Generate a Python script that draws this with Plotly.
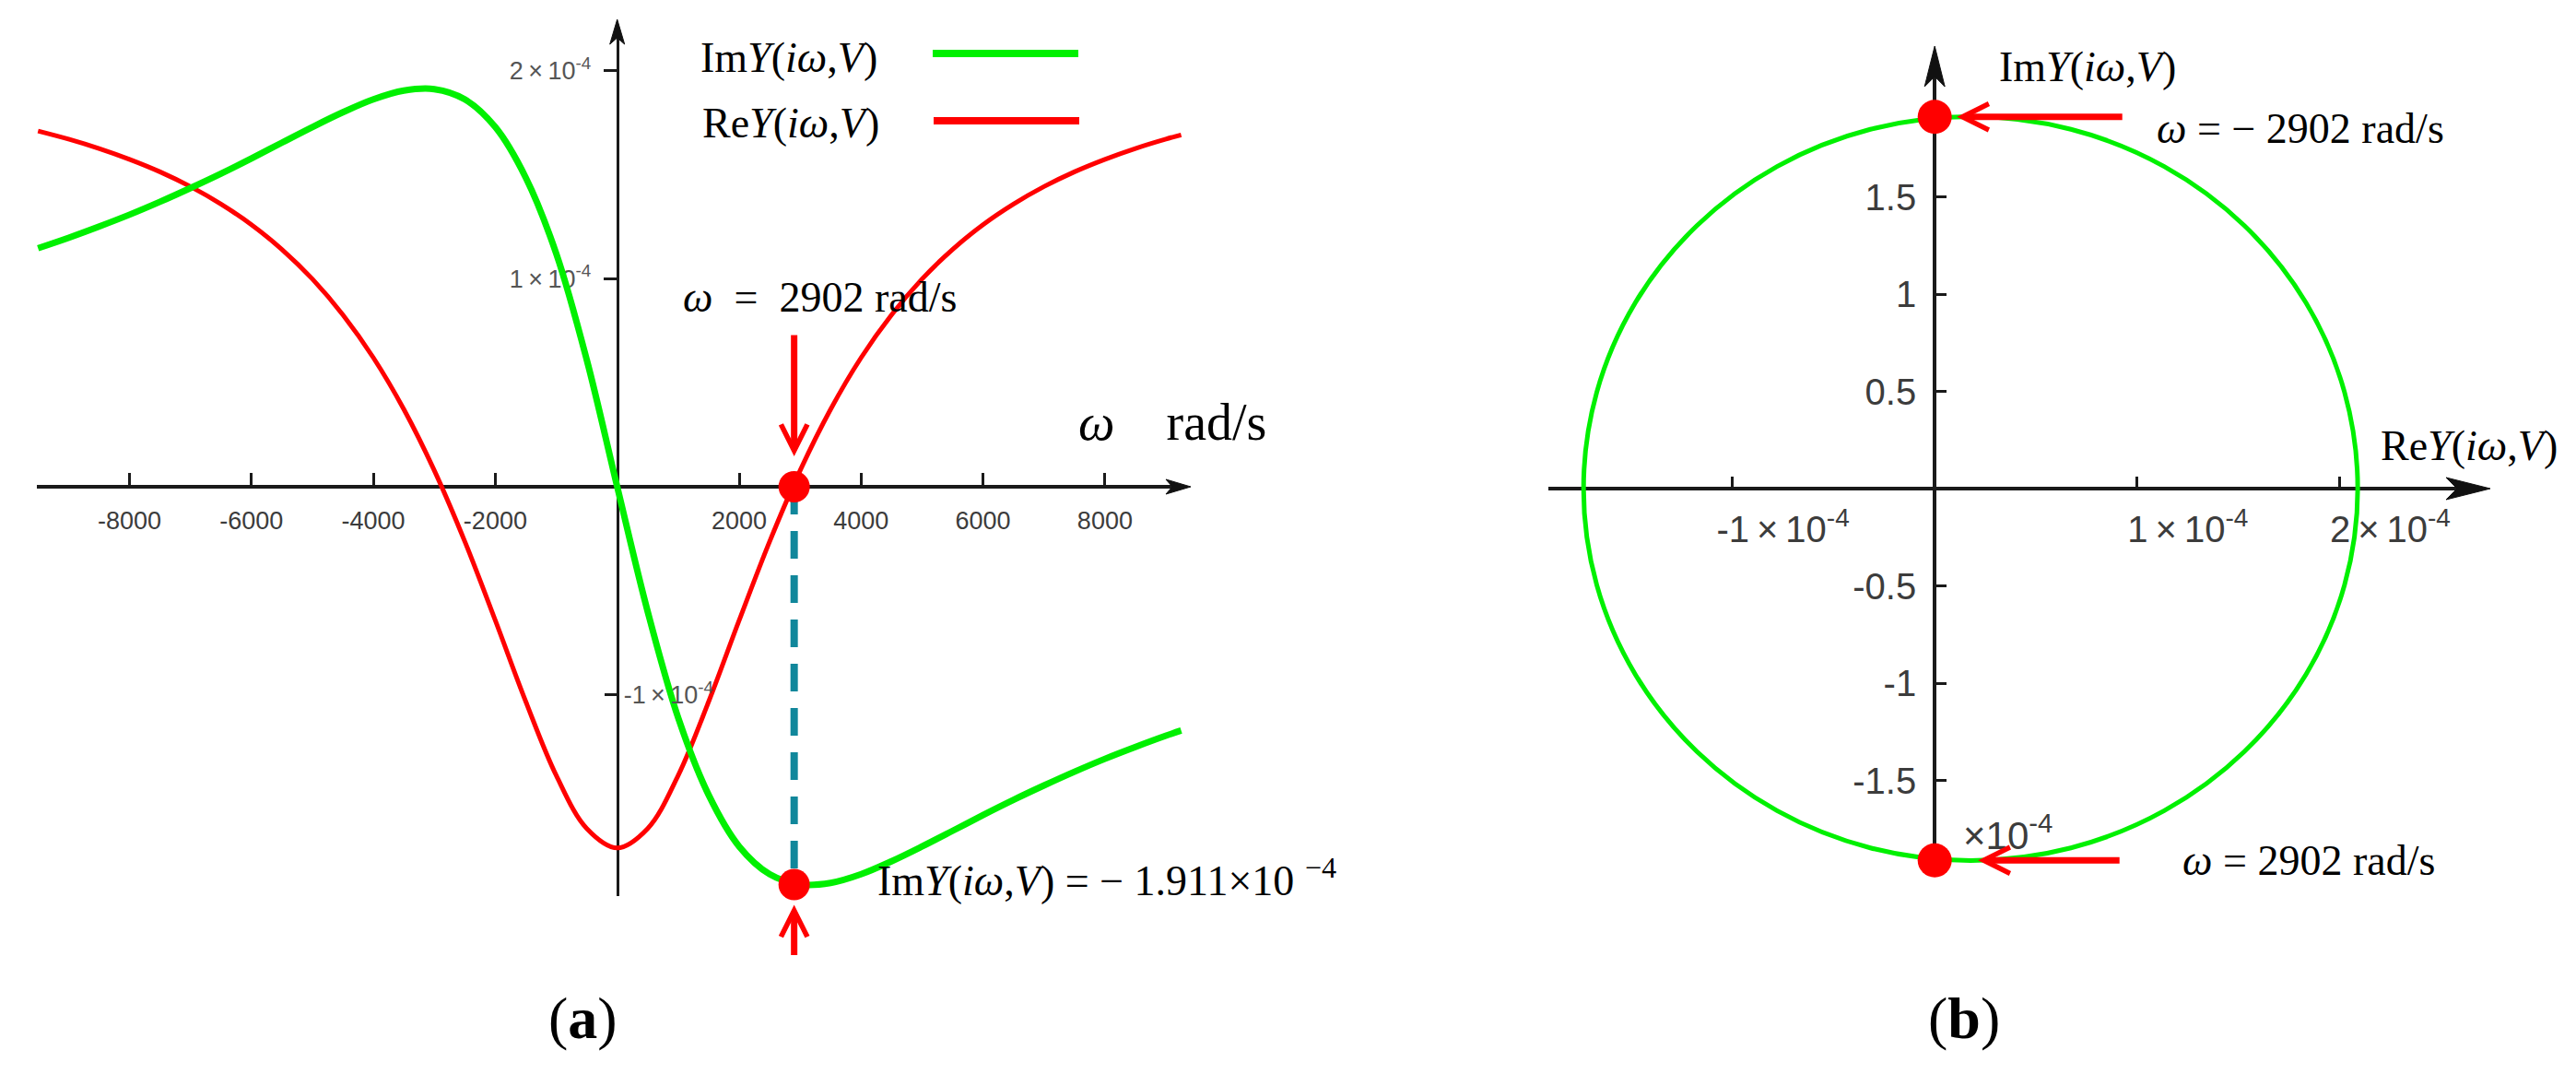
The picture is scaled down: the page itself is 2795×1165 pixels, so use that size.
import plotly.graph_objects as go

# ---------------- data (values in units of 1e-4 S) ----------------
omega = [-9500, -9000, -8500, -8000, -7500, -7000, -6500, -6000, -5500, -5000,
         -4500, -4000, -3500, -3000, -2500, -2000, -1500, -1000, -500, 0,
         500, 1000, 1500, 2000, 2500, 3000, 3500, 4000, 4500, 5000,
         5500, 6000, 6500, 7000, 7500, 8000, 8500, 9000, 9250]
im_y = [1.146, 1.196, 1.250, 1.307, 1.369, 1.435, 1.504, 1.577, 1.653, 1.728,
        1.799, 1.861, 1.903, 1.910, 1.861, 1.728, 1.485, 1.12, 0.61, 0.0,
        -0.60, -1.11, -1.481, -1.728, -1.861, -1.910, -1.903, -1.861, -1.799, -1.728,
        -1.653, -1.577, -1.504, -1.435, -1.369, -1.307, -1.250, -1.196, -1.171]
re_y = [1.709, 1.670, 1.625, 1.573, 1.513, 1.442, 1.358, 1.259, 1.140, 0.998,
        0.826, 0.620, 0.372, 0.078, -0.263, -0.642, -1.032, -1.387, -1.642, -1.735,
        -1.642, -1.387, -1.032, -0.642, -0.263, 0.078, 0.372, 0.620, 0.826, 0.998,
        1.140, 1.259, 1.358, 1.442, 1.513, 1.573, 1.625, 1.670, 1.690]

# Nyquist locus (panel b), ordered from omega = -inf to +inf
re_b = [2.090, 2.025, 1.834, 1.530, 1.134, 0.673, 0.178, -0.318, -0.779, -1.175,
        -1.479, -1.670, -1.735, -1.670, -1.479, -1.175, -0.779, -0.318, 0.178, 0.673,
        1.134, 1.530, 1.834, 2.025, 2.090]
im_b = [0.0, 0.495, 0.956, 1.352, 1.656, 1.847, 1.912, 1.847, 1.656, 1.352,
        0.956, 0.495, 0.0, -0.495, -0.956, -1.352, -1.656, -1.847, -1.912, -1.847,
        -1.656, -1.352, -0.956, -0.495, 0.0]

omega_mark = 2902
im_extreme = 1.911

x_ticks_a = [-8000, -6000, -4000, -2000, 2000, 4000, 6000, 8000]
x_ticktext_a = ["-8000", "-6000", "-4000", "-2000", "2000", "4000", "6000", "8000"]
y_ticks_a_left = [1, 2]
y_ticktext_a_left = ["1\u2009\u00d7\u200910<sup>-4</sup>", "2\u2009\u00d7\u200910<sup>-4</sup>"]
y_ticks_a_right = [-1]
y_ticktext_a_right = ["-1\u2009\u00d7\u200910<sup>-4</sup>"]
x_ticks_b = [-1, 1, 2]
x_ticktext_b = ["-1\u2009\u00d7\u200910<sup>-4</sup>", "1\u2009\u00d7\u200910<sup>-4</sup>",
                "2\u2009\u00d7\u200910<sup>-4</sup>"]
y_ticks_b = [-1.5, -1, -0.5, 0.5, 1, 1.5]
y_ticktext_b = ["-1.5", "-1", "-0.5", "0.5", "1", "1.5"]

# ---------------- layout geometry (pixels) ----------------
W, H = 2795, 1165


def fx(px):
    return px / W


def fy(py):
    return 1 - py / H


# panel a calibration
XA0, KXA = 669.7, 132.3 / 2000.0   # px of omega=0, px per rad/s
YA0, KYA = 528.0, 225.8            # px of 0, px per 1e-4
# panel b calibration
XB0, KXB = 2099.2, 219.6
YB0, KYB = 530.0, 211.0

GREEN = "#00f000"
RED = "#ff0000"
TEAL = "#11879b"
SERIF = "Liberation Serif"
SANS = "Liberation Sans"
TICKC = "#3c3c3c"

fig = go.Figure()

# ---- panel (a)
fig.add_trace(go.Scatter(x=omega, y=re_y, mode="lines", line=dict(color=RED, width=5, shape="spline"),
                         xaxis="x", yaxis="y", showlegend=False, hoverinfo="skip"))
fig.add_trace(go.Scatter(x=omega, y=im_y, mode="lines", line=dict(color=GREEN, width=7, shape="spline"),
                         xaxis="x", yaxis="y", showlegend=False, hoverinfo="skip"))
fig.add_trace(go.Scatter(x=[omega_mark, omega_mark], y=[0, -im_extreme], mode="lines",
                         line=dict(color=TEAL, width=8, dash="30px,18px"),
                         xaxis="x", yaxis="y", showlegend=False, hoverinfo="skip"))
fig.add_trace(go.Scatter(x=[omega_mark, omega_mark], y=[0, -im_extreme], mode="markers",
                         marker=dict(color=RED, size=34), cliponaxis=False,
                         xaxis="x", yaxis="y", showlegend=False, hoverinfo="skip"))
fig.add_trace(go.Scatter(x=[omega_mark], y=[-im_extreme], mode="markers",
                         marker=dict(color=RED, size=1, opacity=0),
                         xaxis="x", yaxis="y3", showlegend=False, hoverinfo="skip"))

# ---- panel (b)
fig.add_trace(go.Scatter(x=re_b, y=im_b, mode="lines", line=dict(color=GREEN, width=5, shape="spline"),
                         xaxis="x2", yaxis="y2", showlegend=False, hoverinfo="skip"))
fig.add_trace(go.Scatter(x=[0, 0], y=[im_extreme, -im_extreme], mode="markers",
                         marker=dict(color=RED, size=37), cliponaxis=False,
                         xaxis="x2", yaxis="y2", showlegend=False, hoverinfo="skip"))

common = dict(showgrid=False, zeroline=False, showline=True, linecolor="#1a1a1a",
              tickcolor="#1a1a1a", layer="below traces", fixedrange=True)

xa_l, xa_r = 40, 1284
ya_t, ya_b = 30, 972
xb_l, xb_r = 1680, 2688
yb_t, yb_b = 80, 950

fig.update_layout(
    width=W, height=H, autosize=False,
    margin=dict(l=0, r=0, t=0, b=0),
    paper_bgcolor="white", plot_bgcolor="rgba(0,0,0,0)",
    font=dict(family=SERIF, color="black"),
    xaxis=dict(domain=[fx(xa_l), fx(xa_r)],
               range=[(xa_l - XA0) / KXA, (xa_r - XA0) / KXA],
               anchor="free", position=fy(YA0), side="bottom",
               linewidth=4, ticks="inside", ticklen=13, tickwidth=3,
               tickvals=x_ticks_a, ticktext=x_ticktext_a,
               tickfont=dict(family=SANS, size=27, color=TICKC),
               ticklabelstandoff=12, **common),
    yaxis=dict(domain=[fy(ya_b), fy(ya_t)],
               range=[(YA0 - ya_b) / KYA, (YA0 - ya_t) / KYA],
               anchor="free", position=fx(XA0), side="left",
               linewidth=3, ticks="outside", ticklen=14, tickwidth=3,
               tickvals=y_ticks_a_left, ticktext=y_ticktext_a_left,
               tickfont=dict(family=SANS, size=27, color="#555"),
               ticklabelstandoff=8, **common),
    yaxis3=dict(overlaying="y",
                range=[(YA0 - ya_b) / KYA, (YA0 - ya_t) / KYA],
                anchor="free", position=fx(XA0), side="right",
                showgrid=False, zeroline=False, showline=False, fixedrange=True,
                ticks="inside", ticklen=14, tickwidth=3, tickcolor="#1a1a1a",
                tickvals=y_ticks_a_right, ticktext=y_ticktext_a_right,
                tickfont=dict(family=SANS, size=27, color="#555"),
                ticklabelstandoff=6),
    xaxis2=dict(domain=[fx(xb_l), fx(xb_r)],
                range=[(xb_l - XB0) / KXB, (xb_r - XB0) / KXB],
                anchor="free", position=fy(YB0), side="bottom",
                linewidth=4, ticks="inside", ticklen=11, tickwidth=3,
                tickvals=x_ticks_b, ticktext=x_ticktext_b,
                tickfont=dict(family=SANS, size=40, color=TICKC),
                ticklabelstandoff=8, ticklabelshift=55, **common),
    yaxis2=dict(domain=[fy(yb_b), fy(yb_t)],
                range=[(YB0 - yb_b) / KYB, (YB0 - yb_t) / KYB],
                anchor="free", position=fx(XB0), side="left",
                linewidth=4, ticks="inside", ticklen=11, tickwidth=3,
                tickvals=y_ticks_b, ticktext=y_ticktext_b,
                tickfont=dict(family=SANS, size=40, color=TICKC),
                ticklabelstandoff=10, **common),
)


# ---- axis arrowheads (paper coords)
def path(pts):
    return "M " + " L ".join(f"{fx(x):.6f},{fy(y):.6f}" for x, y in pts) + " Z"


def head_right(tx, ty, L, hw, notch):
    return path([(tx, ty), (tx - L, ty - hw), (tx - L + notch, ty), (tx - L, ty + hw)])


def head_up(tx, ty, L, hw, notch):
    return path([(tx, ty), (tx - hw, ty + L), (tx, ty + L - notch), (tx + hw, ty + L)])


shapes = []
for p in [head_right(1292, YA0, 27, 8, 7), head_up(XA0, 21, 27, 8, 7),
          head_right(2702, YB0, 48, 12, 12), head_up(XB0, 50, 44, 11, 11)]:
    shapes.append(dict(type="path", path=p, xref="paper", yref="paper",
                       fillcolor="#111", line=dict(color="#111", width=1)))

# legend sample lines
shapes.append(dict(type="line", xref="paper", yref="paper", x0=fx(1012), x1=fx(1170),
                   y0=fy(58), y1=fy(58), line=dict(color=GREEN, width=8)))
shapes.append(dict(type="line", xref="paper", yref="paper", x0=fx(1013), x1=fx(1171),
                   y0=fy(131), y1=fy(131), line=dict(color=RED, width=8)))
fig.update_layout(shapes=shapes)

IMY = "Im<i>Y</i>(<i>iω</i>,<i>V</i>)"
REY = "Re<i>Y</i>(<i>iω</i>,<i>V</i>)"
NB = "\u00a0"

ann = []


def txt(text, x, y, size=46, xanchor="left", color="black", family=SERIF):
    ann.append(dict(text=text, x=fx(x), y=fy(y), xref="paper", yref="paper",
                    xanchor=xanchor, yanchor="middle", showarrow=False,
                    font=dict(family=family, size=size, color=color)))


# panel a texts
txt(IMY, 758, 62)
txt(REY, 760, 133)
txt(f"<i>ω</i>{NB}{NB}={NB}{NB}2902 rad/s", 739, 322)
txt(f"<i>ω</i>{NB}{NB}{NB}{NB}rad/s", 1168, 458, size=56)
txt(f"{IMY} = − 1.911×10{NB}<sup>−4</sup>", 950, 952)
txt("(<b>a</b>)", 632, 1104, size=64, xanchor="center")
# panel b texts
txt(IMY, 2167, 72)
txt(REY, 2581, 483)
txt("<i>ω</i> = − 2902 rad/s", 2338, 139)
txt("<i>ω</i> = 2902 rad/s", 2366, 934)
txt("×10<sup>-4</sup>", 2128, 903, size=42, color=TICKC, family=SANS)
txt("(<b>b</b>)", 2131, 1104, size=64, xanchor="center")


# pointer arrows
def pointer(x, y, xref, yref, ax, ay, standoff):
    ann.append(dict(text="", x=x, y=y, xref=xref, yref=yref, ax=ax, ay=ay,
                    showarrow=True, arrowhead=5, arrowsize=0.8, arrowwidth=7,
                    arrowcolor=RED, standoff=standoff))


pointer(omega_mark, 0, "x", "y", 0, -166, 33)
pointer(omega_mark, -im_extreme, "x", "y", 0, 78, 22)
pointer(0, im_extreme, "x2", "y2", 205, 0, 24)
pointer(0, -im_extreme, "x2", "y2", 202, 0, 47)

fig.update_layout(annotations=ann)

fig.write_html("out.html", config={"displayModeBar": False},
               post_script="document.body.style.margin='0';document.body.style.overflow='hidden';")
